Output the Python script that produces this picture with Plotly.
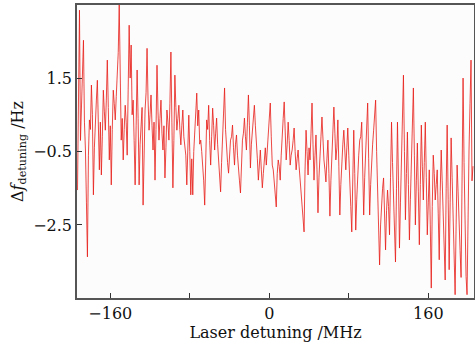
import numpy as np
import plotly.graph_objects as go

# Laser detuning (MHz), sampled every 1 MHz
detuning_start = -193
detuning_step = 1

# Frequency deviation (Hz)
delta_f = [
    # -193 .. -134
    -1.55, 0.8, 3.35, -0.2, 0.90, 1.6, 2.53, 0.3, -0.46, -1.9, -3.37, -0.6,
    0.36, 0.1, 1.31, 0.5, -1.68, -0.4, 0.49, 0.9, 1.44, 0.2, -1.00, 0.3,
    -1.14, -0.1, 1.17, 0.6, 0.08, 0.9, 1.99, 0.7, -0.73, 0.2, -1.41, 0.1,
    1.17, 0.8, 0.36, 1.0, 1.58, 2.2, 3.49, 0.9, -0.19, 0.4, -0.73, 0.1,
    0.76, 0.3, -0.60, 1.2, 2.94, 1.5, 2.40, 0.5, 0.90, -0.2, -1.41, 0.2,
    # -133 .. -78
    1.72, 0.4, -1.41, -0.3, 0.36, 0.7, -1.96, -0.5, 0.63, 1.1, 2.31, 0.9,
    0.08, 0.5, 1.04, 0.2, -0.46, 0.3, -1.28, 0.1, 1.85, 0.6, -0.19, 0.4,
    0.90, 0.0, -0.46, 0.2, -1.22, -0.4, 0.63, 0.3, -0.19, 0.8, 2.21, 0.3,
    -1.49, -0.2, 1.58, 0.7, 0.08, 0.4, 0.76, 0.1, -0.32, 0.2, 0.63, -0.1,
    -0.46, -0.6, -1.41, -0.3, 0.49, -0.5, -1.68, -0.7,
    # -77 .. -20
    -1.68, -0.5, 0.08, 0.6, 1.09, 0.2, 0.63, -0.3, -0.19, -0.5, -0.87, -1.3,
    -1.96, -0.6, 0.36, 0.1, 0.76, -0.2, -0.87, -0.1, 0.68, 0.2, -0.46, 0.0,
    0.41, -0.3, -0.73, -1.1, -1.60, -0.8, -0.19, 0.5, 1.23, 0.1, -0.46, -0.8,
    -1.09, -0.5, -0.19, -0.1, 0.22, -0.4, -0.87, -0.3, -0.05, -0.6, -1.14, -1.3,
    -1.63, -0.7, -0.19, 0.0, 0.41, -0.1, -0.46, 0.3, 1.04, 0.2,
    # -19 .. 36
    -0.95, -0.3, 0.08, 0.4, 0.76, 0.2, -0.19, -0.7, -1.28, -0.9, -0.46, -1.0,
    -1.49, -1.1, -0.60, -0.4, -0.87, -0.5, 0.08, 0.3, 0.82, -0.1, -0.87, -1.0,
    -1.28, -1.6, -2.01, -1.1, -0.73, -0.9, -1.28, -0.6, 0.08, 0.4, 0.85, 0.0,
    -0.73, -0.3, 0.30, -0.2, -0.87, -0.6, -0.46, -0.2, 0.14, -0.5, -1.00, -0.7,
    -0.46, -0.9, -1.28, -1.5, -1.82, -2.2, -2.69, -1.0,
    # 37 .. 94
    0.08, -0.5, -1.14, -0.4, -0.73, 0.0, 0.82, -0.3, -1.28, -0.6, -0.05, -1.0,
    -2.17, -1.2, -0.46, -0.1, 0.44, -0.2, -0.73, -1.0, -1.33, -0.7, -0.19, -1.1,
    -2.26, -1.3, -0.46, 0.1, 0.71, 0.0, -0.73, -0.4, 0.36, -0.9, -2.23, -1.4,
    -0.73, -0.3, 0.08, -0.5, -1.00, -0.4, 0.14, -0.6, -1.55, -2.0, -2.69, -1.2,
    0.08, -1.1, -2.64, -1.8, -1.00, -0.6, -0.19, -0.1, 0.30, -0.8,
    # 95 .. 152
    -2.23, -1.2, -0.46, 0.1, 0.82, -0.7, -2.23, -1.4, -0.73, -0.3, 0.08, 0.4,
    0.90, -0.5, -1.55, -2.6, -3.59, -2.5, -1.82, -1.5, -1.22, -2.2, -3.18, -2.1,
    -1.55, -2.0, -2.77, -1.2, 0.30, -0.8, -1.82, -2.6, -3.51, -1.5, 0.30, -1.3,
    -3.13, -1.9, -0.73, 0.3, 1.58, -0.5, -2.36, -1.1, 0.03, -1.4, -2.91, -1.8,
    -0.73, 0.2, 1.23, -0.6, -2.50, -1.3, -0.27, -1.6, -3.04, -1.4,
    # 153 .. 205
    0.22, -0.9, -1.82, -0.8, 0.30, -1.2, -2.77, -1.9, -1.00, -2.5, -4.22, -2.0,
    -0.60, -1.1, -1.82, -1.4, -1.00, -2.2, -3.45, -1.6, -0.46, -1.3, -2.09, -3.0,
    -4.00, -1.5, 0.22, -1.8, -3.72, -1.9, -0.13, -1.2, -2.36, -3.3, -4.40, -2.5,
    -0.87, -1.6, -2.64, -3.2, -3.93, -1.0, 1.50, -0.8, -3.18, -3.9, -4.40, -2.0,
    -0.46, 0.8, 1.99, -1.3, -0.9,
]

detuning = detuning_start + detuning_step * np.arange(len(delta_f))

x_tick_vals = [-160, 0, 160]
x_tick_text = ["\u2212160", "0", "160"]
y_tick_vals = [1.5, -0.5, -2.5]
y_tick_text = ["1.5", "\u22120.5", "\u22122.5"]

font_family = "DejaVu Serif"

fig = go.Figure()
fig.add_trace(go.Scatter(
    x=detuning, y=delta_f, mode="lines",
    line=dict(color="rgba(232,30,25,0.9)", width=0.9),
    showlegend=False, hoverinfo="skip",
))

axis_common = dict(
    showline=True, linecolor="#555555", linewidth=1.5, mirror=True,
    ticks="inside", ticklen=5, tickwidth=1, tickcolor="#333333",
    showgrid=False, zeroline=False,
    tickfont=dict(family=font_family, size=16, color="#111111"),
)

fig.update_layout(
    width=475, height=344,
    margin=dict(l=77, r=1, t=5, b=46, autoexpand=False),
    paper_bgcolor="white", plot_bgcolor="#fcfcfc",
    font=dict(family=font_family, size=16, color="#111111"),
    xaxis=dict(
        range=[-193.5, 206], tickvals=x_tick_vals, ticktext=x_tick_text,
        minor=dict(ticks="inside", tick0=0, dtick=80, ticklen=5,
                   tickcolor="#333333", showgrid=False),
        title=dict(text="Laser detuning /MHz", standoff=2,
                   font=dict(family=font_family, size=16)),
        **axis_common,
    ),
    yaxis=dict(
        range=[-4.49, 3.49], tickvals=y_tick_vals, ticktext=y_tick_text,
        title=dict(text="\u0394<i>f</i><sub>detuning</sub> /Hz", standoff=6,
                   font=dict(family=font_family, size=16)),
        **axis_common,
    ),
)

fig.write_html("out.html", config={"displayModeBar": False},
               post_script="document.body.style.margin='0';")
